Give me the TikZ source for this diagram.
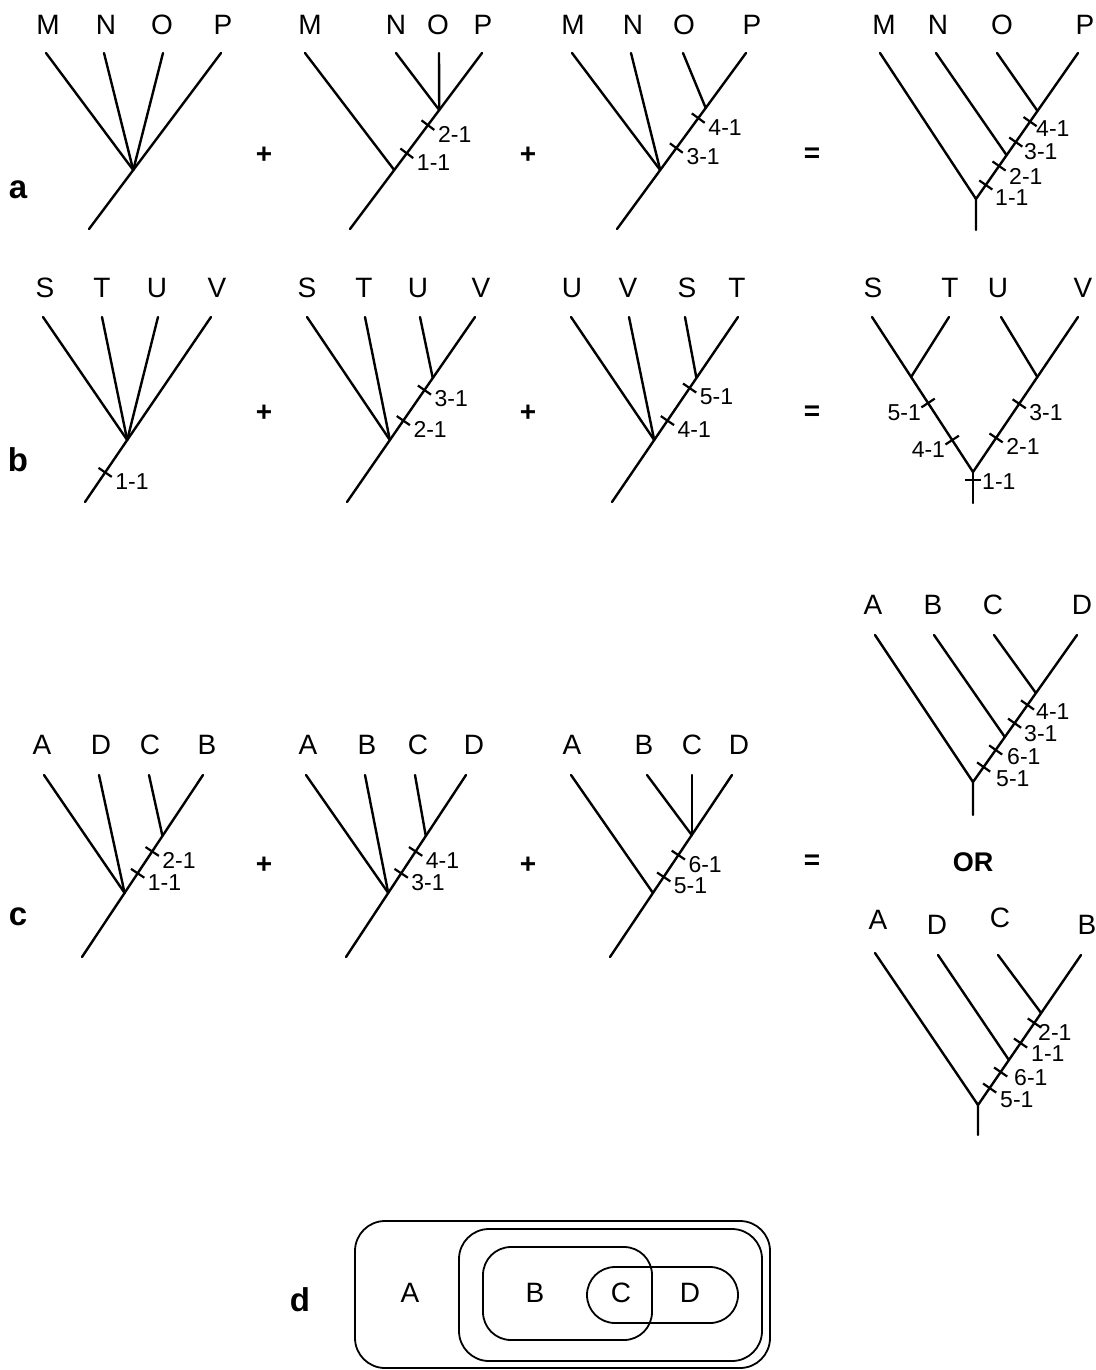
\documentclass[tikz,border=0pt]{standalone}
\usepackage{fontspec}
\setmainfont{Liberation Sans}
\usetikzlibrary{calc}
\tikzset{
  br/.style={line width=2.4pt, line cap=round},
  tk/.style={line width=2.2pt},
  leaf/.style={font=\fontsize{28}{30}\selectfont, inner sep=0pt},
  num/.style={font=\fontsize{23}{25}\selectfont, inner sep=0pt},
  pan/.style={font=\fontsize{33}{35}\selectfont\bfseries, inner sep=0pt},
  op/.style={font=\fontsize{28}{30}\selectfont\bfseries, inner sep=0pt},
  setbox/.style={line width=1.8pt},
}
% tick with label on the right: #1 root, #2 tip, #3 fraction, #4 text, #5 name
\newcommand\mytickR[5]{%
  \coordinate (#5) at ($(#1)!#3!(#2)$);
  \draw[tk] ($(#5)!8pt!90:(#2)$) -- ($(#5)!8pt!-90:(#2)$);
  \node[num, anchor=west] (#5l) at ($(#5)+(10,9)$) {#4};
}
\newcommand\mytickL[5]{%
  \coordinate (#5) at ($(#1)!#3!(#2)$);
  \draw[tk] ($(#5)!8pt!90:(#2)$) -- ($(#5)!8pt!-90:(#2)$);
  \node[num, anchor=east] (#5l) at ($(#5)+(-7,10)$) {#4};
}
% tick with label at an explicit west point #6
\newcommand\mytickP[6]{%
  \coordinate (#5) at ($(#1)!#3!(#2)$);
  \draw[tk] ($(#5)!8pt!90:(#2)$) -- ($(#5)!8pt!-90:(#2)$);
  \node[num, anchor=west] (#5l) at (#6) {#4};
}
\begin{document}
\begin{tikzpicture}[x=1pt, y=-1pt]
\useasboundingbox (0,0) rectangle (1095,1370);

% ================= panel a =================
\node[pan] (la) at (18,190) {a};
% tree a1
\coordinate (a1r) at (89,229); \coordinate (a1P) at (221,53);
\coordinate (a1n) at ($(a1r)!0.335!(a1P)$);
\coordinate (a1M) at (46,53); \coordinate (a1N) at (104,53); \coordinate (a1O) at (163,53);
\draw[br] (a1r) -- (a1P);
\draw[br] (a1n) -- (a1M); \draw[br] (a1n) -- (a1N); \draw[br] (a1n) -- (a1O);
\node[leaf] (a1Ml) at (48,25) {M}; \node[leaf] (a1Nl) at (106,25) {N};
\node[leaf] (a1Ol) at (162,25) {O}; \node[leaf] (a1Pl) at (223,25) {P};
\node[op] (ap1) at (264,155) {+};
% tree a2
\coordinate (a2r) at (350,229); \coordinate (a2P) at (482,53);
\coordinate (a2n) at ($(a2r)!0.335!(a2P)$);
\coordinate (a2m) at ($(a2r)!0.676!(a2P)$);
\coordinate (a2M) at (305,53); \coordinate (a2N) at (396,53); \coordinate (a2O) at (439,53);
\draw[br] (a2r) -- (a2P);
\draw[br] (a2n) -- (a2M); \draw[br] (a2m) -- (a2N); \draw[br] (a2m) -- (a2O);
\mytickR{a2r}{a2P}{0.59}{2-1}{a2t2}
\mytickR{a2r}{a2P}{0.43}{1-1}{a2t1}
\node[leaf] (a2Ml) at (310,25) {M}; \node[leaf] (a2Nl) at (396,25) {N};
\node[leaf] (a2Ol) at (438,25) {O}; \node[leaf] (a2Pl) at (483,25) {P};
\node[op] (ap2) at (528,155) {+};
% tree a3
\coordinate (a3r) at (617,229); \coordinate (a3P) at (746,53);
\coordinate (a3n) at ($(a3r)!0.335!(a3P)$);
\coordinate (a3m) at ($(a3r)!0.6875!(a3P)$);
\coordinate (a3M) at (572,53); \coordinate (a3N) at (631,53); \coordinate (a3O) at (683,53);
\draw[br] (a3r) -- (a3P);
\draw[br] (a3n) -- (a3M); \draw[br] (a3n) -- (a3N); \draw[br] (a3m) -- (a3O);
\mytickR{a3r}{a3P}{0.63}{4-1}{a3t4}
\mytickR{a3r}{a3P}{0.46}{3-1}{a3t3}
\node[leaf] (a3Ml) at (573,25) {M}; \node[leaf] (a3Nl) at (633,25) {N};
\node[leaf] (a3Ol) at (684,25) {O}; \node[leaf] (a3Pl) at (752,25) {P};
\node[op] (aeq) at (812,155) {=};
% tree a4
\coordinate (a4r) at (976,199); \coordinate (a4s) at (976,230);
\coordinate (a4P) at (1078,53); \coordinate (a4M) at (880,53);
\coordinate (a4N) at (936,53); \coordinate (a4O) at (997,53);
\coordinate (a4n) at ($(a4r)!0.30!(a4P)$);
\coordinate (a4o) at ($(a4r)!0.603!(a4P)$);
\draw[br] (a4s) -- (a4r) -- (a4P);
\draw[br] (a4r) -- (a4M);
\draw[br] (a4n) -- (a4N); \draw[br] (a4o) -- (a4O);
\mytickP{a4r}{a4P}{0.53}{4-1}{a4t4}{1036,129}
\mytickP{a4r}{a4P}{0.39}{3-1}{a4t3}{1024,152}
\mytickP{a4r}{a4P}{0.226}{2-1}{a4t2}{1009,176}
\mytickP{a4r}{a4P}{0.096}{1-1}{a4t1}{995,198}
\node[leaf] (a4Ml) at (884,25) {M}; \node[leaf] (a4Nl) at (938,25) {N};
\node[leaf] (a4Ol) at (1002,25) {O}; \node[leaf] (a4Pl) at (1085,25) {P};

% ================= panel b =================
\node[pan] (lb) at (18,460) {b};
% tree b1
\coordinate (b1r) at (85,502); \coordinate (b1V) at (211,317);
\coordinate (b1n) at ($(b1r)!0.335!(b1V)$);
\coordinate (b1S) at (43,317); \coordinate (b1T) at (102,317); \coordinate (b1U) at (158,317);
\draw[br] (b1r) -- (b1V);
\draw[br] (b1n) -- (b1S); \draw[br] (b1n) -- (b1T); \draw[br] (b1n) -- (b1U);
\mytickR{b1r}{b1V}{0.16}{1-1}{b1t1}
\node[leaf] (b1Sl) at (45,288) {S}; \node[leaf] (b1Tl) at (102,288) {T};
\node[leaf] (b1Ul) at (157,288) {U}; \node[leaf] (b1Vl) at (217,288) {V};
\node[op] (bp1) at (264,413) {+};
% tree b2
\coordinate (b2r) at (347,502); \coordinate (b2V) at (475,317);
\coordinate (b2n) at ($(b2r)!0.335!(b2V)$);
\coordinate (b2m) at ($(b2r)!0.67!(b2V)$);
\coordinate (b2S) at (307,317); \coordinate (b2T) at (365,317); \coordinate (b2U) at (420,317);
\draw[br] (b2r) -- (b2V);
\draw[br] (b2n) -- (b2S); \draw[br] (b2n) -- (b2T); \draw[br] (b2m) -- (b2U);
\mytickR{b2r}{b2V}{0.605}{3-1}{b2t3}
\mytickR{b2r}{b2V}{0.44}{2-1}{b2t2}
\node[leaf] (b2Sl) at (307,288) {S}; \node[leaf] (b2Tl) at (364,288) {T};
\node[leaf] (b2Ul) at (418,288) {U}; \node[leaf] (b2Vl) at (481,288) {V};
\node[op] (bp2) at (528,413) {+};
% tree b3
\coordinate (b3r) at (612,502); \coordinate (b3T) at (738,317);
\coordinate (b3n) at ($(b3r)!0.335!(b3T)$);
\coordinate (b3m) at ($(b3r)!0.67!(b3T)$);
\coordinate (b3U) at (571,317); \coordinate (b3V) at (629,317); \coordinate (b3S) at (685,317);
\draw[br] (b3r) -- (b3T);
\draw[br] (b3n) -- (b3U); \draw[br] (b3n) -- (b3V); \draw[br] (b3m) -- (b3S);
\mytickR{b3r}{b3T}{0.616}{5-1}{b3t5}
\mytickR{b3r}{b3T}{0.44}{4-1}{b3t4}
\node[leaf] (b3Ul) at (572,288) {U}; \node[leaf] (b3Vl) at (628,288) {V};
\node[leaf] (b3Sl) at (687,288) {S}; \node[leaf] (b3Tl) at (737,288) {T};
\node[op] (beq) at (812,413) {=};
% tree b4
\coordinate (b4r) at (973,472); \coordinate (b4s) at (973,503);
\coordinate (b4S) at (872,317); \coordinate (b4V) at (1078,317);
\coordinate (b4T) at (949,317); \coordinate (b4U) at (1001,317);
\coordinate (b4L) at ($(b4r)!0.613!(b4S)$);
\coordinate (b4R) at ($(b4r)!0.613!(b4V)$);
\draw[br] (b4s) -- (b4r);
\draw[br] (b4r) -- (b4S); \draw[br] (b4r) -- (b4V);
\draw[br] (b4L) -- (b4T); \draw[br] (b4R) -- (b4U);
\mytickL{b4r}{b4S}{0.445}{5-1}{b4t5}
\mytickL{b4r}{b4S}{0.206}{4-1}{b4t4}
\mytickR{b4r}{b4V}{0.44}{3-1}{b4t3}
\mytickR{b4r}{b4V}{0.22}{2-1}{b4t2}
\coordinate (b4t1) at (973,480);
\draw[tk] ($(b4t1)+(-8,0)$) -- ($(b4t1)+(8,0)$);
\node[num, anchor=west] (b4t1l) at (982,482) {1-1};
\node[leaf] (b4Sl) at (873,288) {S}; \node[leaf] (b4Tl) at (950,288) {T};
\node[leaf] (b4Ul) at (998,288) {U}; \node[leaf] (b4Vl) at (1083,288) {V};

% ================= panel c =================
\node[pan] (lc) at (18,917) {c};
% tree c1
\coordinate (c1r) at (82,957); \coordinate (c1B) at (203,775);
\coordinate (c1n) at ($(c1r)!0.352!(c1B)$);
\coordinate (c1m) at ($(c1r)!0.665!(c1B)$);
\coordinate (c1A) at (44,775); \coordinate (c1D) at (99,775); \coordinate (c1C) at (149,775);
\draw[br] (c1r) -- (c1B);
\draw[br] (c1n) -- (c1A); \draw[br] (c1n) -- (c1D); \draw[br] (c1m) -- (c1C);
\mytickR{c1r}{c1B}{0.58}{2-1}{c1t2}
\mytickR{c1r}{c1B}{0.46}{1-1}{c1t1}
\node[leaf] (c1Al) at (42,745) {A}; \node[leaf] (c1Dl) at (101,745) {D};
\node[leaf] (c1Cl) at (150,745) {C}; \node[leaf] (c1Bl) at (207,745) {B};
\node[op] (cp1) at (264,865) {+};
% tree c2
\coordinate (c2r) at (346,957); \coordinate (c2D) at (466,775);
\coordinate (c2n) at ($(c2r)!0.352!(c2D)$);
\coordinate (c2m) at ($(c2r)!0.665!(c2D)$);
\coordinate (c2A) at (306,775); \coordinate (c2B) at (365,775); \coordinate (c2C) at (415,775);
\draw[br] (c2r) -- (c2D);
\draw[br] (c2n) -- (c2A); \draw[br] (c2n) -- (c2B); \draw[br] (c2m) -- (c2C);
\mytickR{c2r}{c2D}{0.58}{4-1}{c2t4}
\mytickR{c2r}{c2D}{0.46}{3-1}{c2t3}
\node[leaf] (c2Al) at (308,745) {A}; \node[leaf] (c2Bl) at (367,745) {B};
\node[leaf] (c2Cl) at (418,745) {C}; \node[leaf] (c2Dl) at (474,745) {D};
\node[op] (cp2) at (528,865) {+};
% tree c3
\coordinate (c3r) at (610,957); \coordinate (c3D) at (732,775);
\coordinate (c3n) at ($(c3r)!0.352!(c3D)$);
\coordinate (c3m) at ($(c3r)!0.67!(c3D)$);
\coordinate (c3A) at (571,775); \coordinate (c3B) at (647,775);
\coordinate (c3C) at (c3m |- c3A);
\draw[br] (c3r) -- (c3D);
\draw[br] (c3n) -- (c3A); \draw[br] (c3m) -- (c3B);
\draw[br] (c3m) -- (c3C);
\mytickR{c3r}{c3D}{0.56}{6-1}{c3t6}
\mytickR{c3r}{c3D}{0.44}{5-1}{c3t5}
\node[leaf] (c3Al) at (572,745) {A}; \node[leaf] (c3Bl) at (644,745) {B};
\node[leaf] (c3Cl) at (692,745) {C}; \node[leaf] (c3Dl) at (739,745) {D};
\node[op] (ceq) at (812,862) {=};
% tree c4 (top right)
\coordinate (c4r) at (973,782); \coordinate (c4s) at (973,815);
\coordinate (c4A) at (875,635); \coordinate (c4D) at (1077,635);
\coordinate (c4B) at (934,635); \coordinate (c4C) at (994,635);
\coordinate (c4n) at ($(c4r)!0.306!(c4D)$);
\coordinate (c4m) at ($(c4r)!0.605!(c4D)$);
\draw[br] (c4s) -- (c4r) -- (c4D);
\draw[br] (c4r) -- (c4A);
\draw[br] (c4n) -- (c4B); \draw[br] (c4m) -- (c4C);
\mytickP{c4r}{c4D}{0.524}{4-1}{c4t4}{1036,712}
\mytickP{c4r}{c4D}{0.40}{3-1}{c4t3}{1024,734}
\mytickP{c4r}{c4D}{0.218}{6-1}{c4t6}{1007,757}
\mytickP{c4r}{c4D}{0.102}{5-1}{c4t5}{996,779}
\node[leaf] (c4Al) at (873,605) {A}; \node[leaf] (c4Bl) at (933,605) {B};
\node[leaf] (c4Cl) at (993,605) {C}; \node[leaf] (c4Dl) at (1082,605) {D};
\node[op, font=\fontsize{27}{29}\selectfont\bfseries] (cor) at (973,862) {OR};
% tree c5 (bottom right)
\coordinate (c5r) at (978,1105); \coordinate (c5s) at (978,1135);
\coordinate (c5A) at (875,953); \coordinate (c5B) at (1081,955);
\coordinate (c5D) at (938,955); \coordinate (c5C) at (998,955);
\coordinate (c5n) at ($(c5r)!0.30!(c5B)$);
\coordinate (c5m) at ($(c5r)!0.613!(c5B)$);
\draw[br] (c5s) -- (c5r) -- (c5B);
\draw[br] (c5r) -- (c5A);
\draw[br] (c5n) -- (c5D); \draw[br] (c5m) -- (c5C);
\mytickP{c5r}{c5B}{0.547}{2-1}{c5t2}{1038,1032}
\mytickP{c5r}{c5B}{0.413}{1-1}{c5t1}{1031,1054}
\mytickP{c5r}{c5B}{0.22}{6-1}{c5t6}{1014,1078}
\mytickP{c5r}{c5B}{0.113}{5-1}{c5t5}{1000,1100}
\node[leaf] (c5Al) at (878,920) {A}; \node[leaf] (c5Dl) at (937,925) {D};
\node[leaf] (c5Cl) at (1000,918) {C}; \node[leaf] (c5Bl) at (1087,925) {B};

% ================= panel d =================
\node[pan] (ld) at (300,1300) {d};
\draw[setbox, rounded corners=30pt] (355,1221) rectangle (770,1368);
\draw[setbox, rounded corners=30pt] (459,1229) rectangle (762,1361);
\draw[setbox, rounded corners=28pt] (483,1247) rectangle (652,1340);
\draw[setbox, rounded corners=28pt] (587,1267) rectangle (738,1323);
\node[leaf] (dA) at (410,1293) {A};
\node[leaf] (dB) at (535,1293) {B};
\node[leaf] (dC) at (621,1293) {C};
\node[leaf] (dD) at (690,1293) {D};
\end{tikzpicture}
\end{document}
